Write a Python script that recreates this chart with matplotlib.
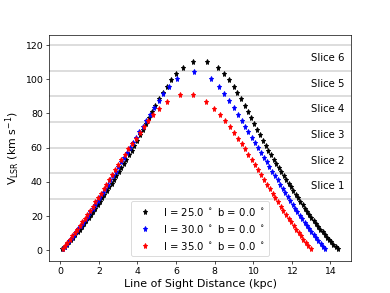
import matplotlib
matplotlib.use("Agg")
import matplotlib.pyplot as plt
import numpy as np

# longitudes of the three sight lines (b = 0 for all)
longitudes = [25.0, 30.0, 35.0]
latitudes = [0.0, 0.0, 0.0]
colors = ["k", "b", "r"]

# l = 25 deg
dist_l25 = [0.11, 0.22, 0.33, 0.44, 0.56, 0.67, 0.78, 0.89, 1.01, 1.12, 1.24, 1.35, 1.47, 1.58, 1.70, 1.82,
            1.93, 2.05, 2.17, 2.29, 2.42, 2.54, 2.66, 2.79, 2.91, 3.04, 3.17, 3.30, 3.43, 3.57, 3.70, 3.84,
            3.99, 4.13, 4.28, 4.43, 4.59, 4.76, 4.93, 5.11, 5.31, 5.52, 5.75, 6.01, 6.35, 6.89,
            7.61, 8.16, 8.49, 8.75, 8.99, 9.19, 9.39, 9.57, 9.74, 9.91, 10.07, 10.22, 10.37, 10.52, 10.66,
            10.80, 10.93, 11.07, 11.20, 11.33, 11.46, 11.59, 11.71, 11.84, 11.96, 12.09, 12.21, 12.33,
            12.45, 12.57, 12.68, 12.80, 12.92, 13.03, 13.15, 13.27, 13.38, 13.49, 13.61, 13.72, 13.83,
            13.95, 14.06, 14.17, 14.28, 14.39]
vlsr_l25 = [0.3, 1.7, 3.0, 4.4, 5.9, 7.3, 8.8, 10.4, 12.0, 13.6, 15.3, 17.0, 18.7, 20.5, 22.4, 24.3,
            26.2, 28.2, 30.3, 32.3, 34.5, 36.7, 38.9, 41.1, 43.4, 45.7, 48.1, 50.5, 53.0, 55.6, 58.3, 61.1,
            64.1, 67.1, 70.3, 73.6, 77.1, 80.7, 84.5, 88.3, 92.1, 95.8, 99.4, 103.1, 106.7, 110.2,
            110.2, 106.7, 103.1, 99.4, 95.8, 92.1, 88.3, 84.5, 80.7, 77.1, 73.6, 70.3, 67.1, 64.1, 61.1,
            58.3, 55.6, 53.0, 50.5, 48.1, 45.7, 43.4, 41.1, 38.9, 36.7, 34.5, 32.3, 30.3,
            28.2, 26.2, 24.3, 22.4, 20.5, 18.7, 17.0, 15.3, 13.6, 12.0, 10.4, 8.8, 7.3,
            5.9, 4.4, 3.0, 1.7, 0.3]

# l = 30 deg
dist_l30 = [0.12, 0.23, 0.35, 0.47, 0.58, 0.70, 0.82, 0.94, 1.06, 1.18, 1.31, 1.43, 1.55, 1.68, 1.80,
            1.93, 2.06, 2.19, 2.32, 2.46, 2.59, 2.73, 2.87, 3.01, 3.15, 3.30, 3.45, 3.61, 3.76, 3.93,
            4.10, 4.27, 4.46, 4.66, 4.87, 5.10, 5.35, 5.65, 6.03,
            6.93,
            7.83, 8.21, 8.51, 8.76, 8.99, 9.20, 9.40, 9.58, 9.76, 9.93, 10.09, 10.25, 10.41, 10.56, 10.70,
            10.85, 10.99, 11.13, 11.27, 11.40, 11.53, 11.67, 11.80, 11.92, 12.05, 12.18, 12.30, 12.43,
            12.55, 12.67, 12.79, 12.91, 13.03, 13.15, 13.27, 13.39, 13.51, 13.62, 13.74]
vlsr_l30 = [0.4, 2.0, 3.6, 5.3, 7.0, 8.7, 10.5, 12.3, 14.2, 16.1, 18.1, 20.1, 22.2, 24.3, 26.5,
            28.8, 31.1, 33.4, 35.8, 38.3, 40.8, 43.4, 46.0, 48.7, 51.4, 54.1, 56.9, 59.7, 62.7, 65.8,
            69.0, 72.3, 75.8, 79.4, 83.2, 87.1, 91.2, 95.5, 100.0,
            104.4,
            100.0, 95.5, 91.2, 87.1, 83.2, 79.4, 75.8, 72.3, 69.0, 65.8, 62.7, 59.7, 56.9, 54.1, 51.4,
            48.7, 46.0, 43.4, 40.8, 38.3, 35.8, 33.4, 31.1, 28.8, 26.5, 24.3, 22.2, 20.1,
            18.1, 16.1, 14.2, 12.3, 10.5, 8.7, 7.0, 5.3, 3.6, 2.0, 0.4]

# l = 35 deg
dist_l35 = [0.12, 0.25, 0.37, 0.49, 0.62, 0.75, 0.88, 1.00, 1.14, 1.27, 1.40, 1.53, 1.67, 1.81, 1.95,
            2.09, 2.24, 2.38, 2.53, 2.69, 2.84, 3.01, 3.17, 3.34, 3.52, 3.71, 3.90, 4.11, 4.33, 4.57,
            4.83, 5.14, 5.54, 6.23,
            6.88, 7.57, 7.96, 8.27, 8.54, 8.78, 9.00, 9.21, 9.40, 9.59, 9.76, 9.93, 10.10, 10.26, 10.42,
            10.57, 10.72, 10.87, 11.01, 11.16, 11.30, 11.44, 11.57, 11.71, 11.84, 11.97, 12.10, 12.23,
            12.36, 12.49, 12.61, 12.74, 12.86, 12.98]
vlsr_l35 = [0.5, 2.2, 4.1, 6.0, 8.0, 9.9, 12.0, 14.1, 16.2, 18.4, 20.7, 23.0, 25.4, 27.9, 30.4,
            33.0, 35.6, 38.3, 41.1, 43.9, 46.8, 49.8, 52.8, 55.8, 58.9, 62.0, 65.2, 68.5, 71.9, 75.4,
            79.1, 82.9, 87.0, 91.1,
            91.1, 87.0, 82.9, 79.1, 75.4, 71.9, 68.5, 65.2, 62.0, 58.9, 55.8, 52.8, 49.8, 46.8, 43.9,
            41.1, 38.3, 35.6, 33.0, 30.4, 27.9, 25.4, 23.0, 20.7, 18.4, 16.2, 14.1, 12.0,
            9.9, 8.0, 6.0, 4.1, 2.2, 0.5]

# velocity slice boundaries and names
slice_edges = [30, 45, 60, 75, 90, 105, 120]
slice_names = ["Slice 1", "Slice 2", "Slice 3", "Slice 4", "Slice 5", "Slice 6"]

distances = [dist_l25, dist_l30, dist_l35]
velocities = [vlsr_l25, vlsr_l30, vlsr_l35]

plt.figure(figsize=(6.4, 293.2 / 61))

for edge in slice_edges:
    plt.axhline(edge, color="lightgray", linewidth=1.8, zorder=0)

for i in range(len(slice_names)):
    y_mid = 0.5 * (slice_edges[i] + slice_edges[i + 1])
    plt.text(13.0, y_mid, slice_names[i], fontsize=12, ha="left", va="center")

for d, v, l, b, c in zip(distances, velocities, longitudes, latitudes, colors):
    plt.plot(d, v, "*", color=c, linestyle="none",
             label=r"l = %.1f $^\circ$ b = %.1f $^\circ$" % (l, b))

plt.xlabel("Line of Sight Distance (kpc)", fontsize=13)
plt.ylabel(r"V$_{\mathrm{LSR}}$ (km s$^{-1}$)", fontsize=13)
plt.xticks(fontsize=11)
plt.yticks(fontsize=11)
plt.xlim(-0.6, 15.1)
plt.ylim(-6.3, 126.0)
plt.legend(loc="lower center", fontsize=12, numpoints=1)

plt.savefig("out.png", dpi=61)
